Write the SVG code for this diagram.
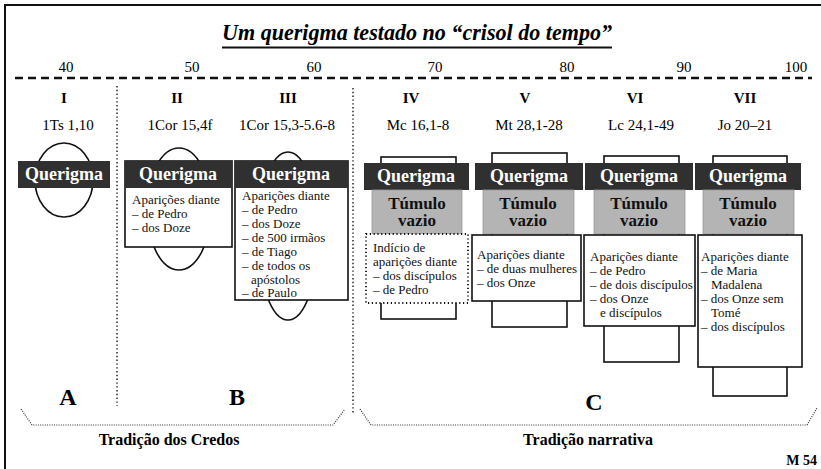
<svg xmlns="http://www.w3.org/2000/svg" width="821" height="469" viewBox="0 0 821 469">
<style>
.title{font-style:italic;font-weight:bold;font-size:24px;}
.year{font-size:15px;text-anchor:middle;}
.rom{font-weight:bold;font-size:15px;text-anchor:middle;}
.ref{font-size:15px;text-anchor:middle;}
.qbox{fill:#303030;}
.qtxt{font-weight:bold;font-size:18px;fill:#fff;text-anchor:middle;}
.tbox{fill:#b4b4b4;stroke:#9a9a9a;stroke-width:0.8;}
.ttxt{font-weight:bold;font-size:17px;fill:#111;text-anchor:middle;}
.wbox{fill:#fff;stroke:#111;stroke-width:1.6;}
.dbox{fill:#fff;stroke:#111;stroke-width:1.8;stroke-dasharray:1.2 2.6;}
.body{font-size:13px;fill:#111;}
.ell{fill:none;stroke:#111;stroke-width:1.6;}
.vdot{stroke:#333;stroke-width:1.6;stroke-dasharray:1.4 2.4;fill:none;}
.brk{stroke:#333;stroke-width:1.2;stroke-dasharray:1 1.3;fill:none;}
.big{font-weight:bold;font-size:24px;text-anchor:middle;}
.trad{font-weight:bold;font-size:16px;text-anchor:middle;}
</style>
<rect width="821" height="469" fill="#fff"/>
<!-- frame -->
<path d="M5 469 V5 H821" fill="none" stroke="#111" stroke-width="2"/>
<!-- title -->
<g id="title">
<text class="title" font-family="Liberation Serif" x="417" y="40" text-anchor="middle" textLength="390" lengthAdjust="spacingAndGlyphs">Um querigma testado no “crisol do tempo”</text>
<line x1="222" y1="47.5" x2="612" y2="47.5" stroke="#111" stroke-width="2"/>
</g>
<!-- timeline -->
<g id="timeline">
<line x1="15" y1="78" x2="812" y2="78" stroke="#111" stroke-width="2.4" stroke-dasharray="8 5"/>
<text class="year" font-family="Liberation Serif" x="66" y="72">40</text>
<text class="year" font-family="Liberation Serif" x="192" y="72">50</text>
<text class="year" font-family="Liberation Serif" x="314" y="72">60</text>
<text class="year" font-family="Liberation Serif" x="435" y="72">70</text>
<text class="year" font-family="Liberation Serif" x="567" y="72">80</text>
<text class="year" font-family="Liberation Serif" x="684" y="72">90</text>
<text class="year" font-family="Liberation Serif" x="796" y="72">100</text>
</g>
<!-- connectors / separators -->
<g id="connectors">
<line class="vdot" x1="117" y1="86" x2="117" y2="406"/>
<line class="vdot" x1="353" y1="88" x2="353" y2="413"/>
<path class="brk" d="M21 409 L32 425 H333 L345 409"/>
<path class="brk" d="M360 409 L371 425 H807 L817 408"/>
</g>
<!-- Column I -->
<g id="col-I">
<text class="rom" font-family="Liberation Serif" x="64" y="103">I</text>
<text class="ref" font-family="Liberation Serif" x="68" y="130">1Ts 1,10</text>
<ellipse class="ell" cx="64" cy="180" rx="29" ry="37"/>
<rect class="qbox" x="18" y="161" width="92" height="27"/>
<text class="qtxt" font-family="Liberation Serif" x="64" y="180">Querigma</text>
</g>
<!-- Column II -->
<g id="col-II">
<text class="rom" font-family="Liberation Serif" x="177" y="103">II</text>
<text class="ref" font-family="Liberation Serif" x="180" y="130">1Cor 15,4f</text>
<ellipse class="ell" cx="179" cy="209" rx="32" ry="61"/>
<rect class="wbox" x="125" y="161" width="107" height="86"/>
<rect class="qbox" x="125" y="161" width="107" height="27"/>
<text class="qtxt" font-family="Liberation Serif" x="178" y="180">Querigma</text>
<text class="body" font-family="Liberation Serif" x="132" y="204">Aparições diante</text>
<text class="body" font-family="Liberation Serif" x="132" y="218">– de Pedro</text>
<text class="body" font-family="Liberation Serif" x="132" y="232">– dos Doze</text>
</g>
<!-- Column III -->
<g id="col-III">
<text class="rom" font-family="Liberation Serif" x="288" y="103">III</text>
<text class="ref" font-family="Liberation Serif" x="287" y="130">1Cor 15,3-5.6-8</text>
<ellipse class="ell" cx="288" cy="236" rx="30" ry="84"/>
<rect class="wbox" x="235" y="161" width="113" height="139"/>
<rect class="qbox" x="235" y="161" width="113" height="27"/>
<text class="qtxt" font-family="Liberation Serif" x="291" y="180">Querigma</text>
<text class="body" font-family="Liberation Serif" x="242" y="200">Aparições diante</text>
<text class="body" font-family="Liberation Serif" x="242" y="214">– de Pedro</text>
<text class="body" font-family="Liberation Serif" x="242" y="228">– dos Doze</text>
<text class="body" font-family="Liberation Serif" x="242" y="242">– de 500 irmãos</text>
<text class="body" font-family="Liberation Serif" x="242" y="256">– de Tiago</text>
<text class="body" font-family="Liberation Serif" x="242" y="270">– de todos os</text>
<text class="body" font-family="Liberation Serif" x="251" y="283.5">apóstolos</text>
<text class="body" font-family="Liberation Serif" x="242" y="297">– de Paulo</text>
</g>
<!-- Column IV -->
<g id="col-IV">
<text class="rom" font-family="Liberation Serif" x="411" y="103">IV</text>
<text class="ref" font-family="Liberation Serif" x="418" y="130">Mc 16,1-8</text>
<rect class="wbox" x="381" y="157" width="75" height="162"/>
<rect class="qbox" x="364" y="163" width="105" height="27"/>
<text class="qtxt" font-family="Liberation Serif" x="416" y="182">Querigma</text>
<rect class="tbox" x="372" y="190" width="90" height="44"/>
<text class="ttxt" font-family="Liberation Serif" x="417" y="209">Túmulo</text>
<text class="ttxt" font-family="Liberation Serif" x="417" y="226">vazio</text>
<rect class="dbox" x="366" y="234" width="102" height="69"/>
<text class="body" font-family="Liberation Serif" x="373" y="252">Indício de</text>
<text class="body" font-family="Liberation Serif" x="373" y="266">aparições diante</text>
<text class="body" font-family="Liberation Serif" x="373" y="280">– dos discípulos</text>
<text class="body" font-family="Liberation Serif" x="373" y="294">– de Pedro</text>
</g>
<!-- Column V -->
<g id="col-V">
<text class="rom" font-family="Liberation Serif" x="525" y="103">V</text>
<text class="ref" font-family="Liberation Serif" x="529" y="130">Mt 28,1-28</text>
<rect class="wbox" x="492" y="153" width="75" height="174"/>
<rect class="qbox" x="475" y="163" width="108" height="27"/>
<text class="qtxt" font-family="Liberation Serif" x="529" y="182">Querigma</text>
<rect class="tbox" x="483" y="190" width="91" height="44"/>
<text class="ttxt" font-family="Liberation Serif" x="528" y="209">Túmulo</text>
<text class="ttxt" font-family="Liberation Serif" x="528" y="226">vazio</text>
<rect class="wbox" x="472" y="235" width="109" height="66"/>
<text class="body" font-family="Liberation Serif" x="477" y="259">Aparições diante</text>
<text class="body" font-family="Liberation Serif" x="477" y="273">– de duas mulheres</text>
<text class="body" font-family="Liberation Serif" x="477" y="287">– dos Onze</text>
</g>
<!-- Column VI -->
<g id="col-VI">
<text class="rom" font-family="Liberation Serif" x="635" y="103">VI</text>
<text class="ref" font-family="Liberation Serif" x="641" y="130">Lc 24,1-49</text>
<rect class="wbox" x="604" y="156" width="75" height="206"/>
<rect class="qbox" x="585" y="163" width="108" height="27"/>
<text class="qtxt" font-family="Liberation Serif" x="639" y="182">Querigma</text>
<rect class="tbox" x="594" y="190" width="91" height="44"/>
<text class="ttxt" font-family="Liberation Serif" x="639" y="209">Túmulo</text>
<text class="ttxt" font-family="Liberation Serif" x="639" y="226">vazio</text>
<rect class="wbox" x="584" y="235" width="111" height="91"/>
<text class="body" font-family="Liberation Serif" x="590" y="261">Aparições diante</text>
<text class="body" font-family="Liberation Serif" x="590" y="275">– de Pedro</text>
<text class="body" font-family="Liberation Serif" x="590" y="289">– de dois discípulos</text>
<text class="body" font-family="Liberation Serif" x="590" y="303">– dos Onze</text>
<text class="body" font-family="Liberation Serif" x="600" y="317">e discípulos</text>
</g>
<!-- Column VII -->
<g id="col-VII">
<text class="rom" font-family="Liberation Serif" x="745" y="103">VII</text>
<text class="ref" font-family="Liberation Serif" x="745" y="130">Jo 20–21</text>
<rect class="wbox" x="713" y="156" width="74" height="240"/>
<rect class="qbox" x="695" y="163" width="106" height="27"/>
<text class="qtxt" font-family="Liberation Serif" x="748" y="182">Querigma</text>
<rect class="tbox" x="703" y="190" width="91" height="44"/>
<text class="ttxt" font-family="Liberation Serif" x="748" y="209">Túmulo</text>
<text class="ttxt" font-family="Liberation Serif" x="748" y="226">vazio</text>
<rect class="wbox" x="698" y="235" width="104" height="132"/>
<text class="body" font-family="Liberation Serif" x="701" y="261">Aparições diante</text>
<text class="body" font-family="Liberation Serif" x="701" y="275">– de Maria</text>
<text class="body" font-family="Liberation Serif" x="711" y="289">Madalena</text>
<text class="body" font-family="Liberation Serif" x="701" y="303">– dos Onze sem</text>
<text class="body" font-family="Liberation Serif" x="711" y="317">Tomé</text>
<text class="body" font-family="Liberation Serif" x="701" y="331">– dos discípulos</text>
</g>
<!-- group labels -->
<g id="labels">
<text class="big" font-family="Liberation Serif" x="68" y="405">A</text>
<text class="big" font-family="Liberation Serif" x="237" y="405">B</text>
<text class="big" font-family="Liberation Serif" x="594" y="410">C</text>
<text class="trad" font-family="Liberation Serif" x="169" y="445">Tradição dos Credos</text>
<text class="trad" font-family="Liberation Serif" x="588" y="445">Tradição narrativa</text>
<text font-family="Liberation Serif" x="817" y="465" text-anchor="end" font-weight="bold" font-size="14">M 54</text>
</g>
</svg>
